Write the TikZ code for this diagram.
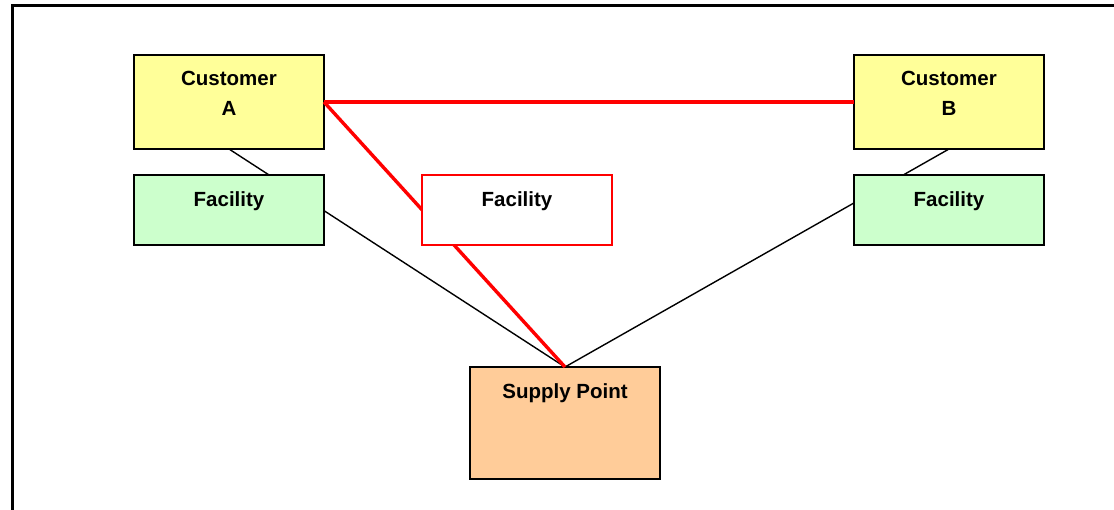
\documentclass[tikz,border=0pt]{standalone}
\usepackage{fontspec}
\setmainfont{Liberation Sans}
\begin{document}
\begin{tikzpicture}[x=1pt,y=-1pt,
  box/.style={draw=black, line width=1.8pt, minimum width=190pt, inner sep=0pt, outer sep=0pt},
  custbox/.style={box, fill=custfill, minimum height=94pt},
  facbox/.style={box, fill=facfill, minimum height=70pt},
  routebox/.style={box, draw=red, line width=1.5pt, fill=white, minimum height=70pt},
  supbox/.style={box, fill=supfill, minimum height=112pt},
  lbl/.style={font=\bfseries\fontsize{20.5}{24}\selectfont, inner sep=0pt, anchor=base},
  link/.style={draw=black, line width=1.4pt},
  route/.style={draw=red, line width=3.4pt}]
\definecolor{custfill}{HTML}{FFFF99}
\definecolor{facfill}{HTML}{CCFFCC}
\definecolor{supfill}{HTML}{FFCC99}
\useasboundingbox (0,0) rectangle (1114,509);
\clip (0,0) rectangle (1114,509);
% outer frame, open to the right and bottom
\draw[line width=3pt, draw=black] (12,530) -- (12,5.5) -- (1130,5.5);
% customers and supply point
\node[custbox] (custA) at (229,102) {};
\node[custbox] (custB) at (949,102) {};
\node[supbox] (supply) at (565,423) {};
% links to the supply point, passing behind the facilities
\draw[link] (custA.south) -- (supply.north);
\draw[link] (custB.south) -- (supply.north);
\draw[route] (custA.east) -- (supply.north);
\draw[route] (custA.east) -- (custB.west);
% facilities
\node[facbox] (facA) at (229,210) {};
\node[routebox] (facM) at (517,210) {};
\node[facbox] (facB) at (949,210) {};
% labels
\node[lbl] (custAt1) at ([yshift=-30pt]custA.north) {Customer};
\node[lbl] (custAt2) at ([yshift=-60pt]custA.north) {A};
\node[lbl] (custBt1) at ([yshift=-30pt]custB.north) {Customer};
\node[lbl] (custBt2) at ([yshift=-60pt]custB.north) {B};
\node[lbl] (facAt) at ([yshift=-31pt]facA.north) {Facility};
\node[lbl] (facMt) at ([yshift=-31pt]facM.north) {Facility};
\node[lbl] (facBt) at ([yshift=-31pt]facB.north) {Facility};
\node[lbl] (supplyt) at ([yshift=-31pt]supply.north) {Supply Point};
\end{tikzpicture}
\end{document}
